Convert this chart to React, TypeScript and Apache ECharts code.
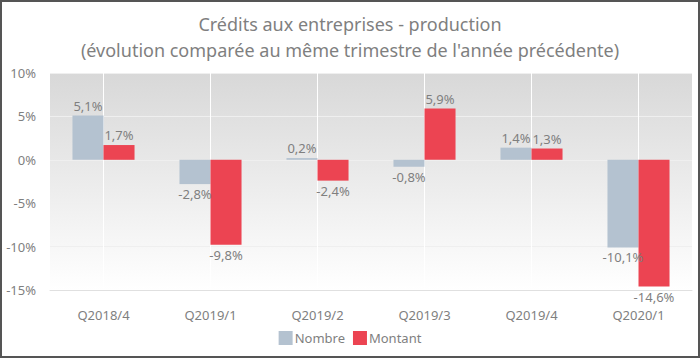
import React, { useEffect, useRef } from "react";
import * as echarts from "echarts";

const categories = ["Q2018/4", "Q2019/1", "Q2019/2", "Q2019/3", "Q2019/4", "Q2020/1"];
const nombre = [5.1, -2.8, 0.2, -0.8, 1.4, -10.1];
const montant = [1.7, -9.8, -2.4, 5.9, 1.3, -14.6];
const seriesNames = ["Nombre", "Montant"];
const titleLines = [
  "Crédits aux entreprises - production",
  "(évolution comparée au même trimestre de l'année précédente)",
];
const yMin = -15;
const yMax = 10;

const FONT = "'Noto Sans', 'Open Sans', sans-serif";
const GRAY = "#7f7f7f";

const fmt = (v: number) => v.toFixed(1).replace(".", ",") + "%";

const makeSeries = (name: string, data: number[], color: string) => ({
  name,
  type: "bar",
  z: 3,
  data: data.map((v) => ({
    value: v,
    label: { position: v >= 0 ? "top" : "bottom" },
  })),
  barGap: "0%",
  barCategoryGap: "42%",
  itemStyle: { color },
  label: {
    show: true,
    color: GRAY,
    fontSize: 13,
    lineHeight: 14,
    fontFamily: FONT,
    distance: 3,
    formatter: (p: any) => fmt(p.value),
  },
});

export default function App() {
  const ref = useRef<HTMLDivElement>(null);
  useEffect(() => {
    if (!ref.current) return;
    const chart = echarts.init(ref.current, null, { renderer: "svg" });
    chart.setOption({
      animation: false,
      backgroundColor: "#ffffff",
      title: {
        text: titleLines.join("\n"),
        left: "center",
        top: 6,
        textStyle: {
          color: GRAY,
          fontSize: 18,
          fontWeight: "normal",
          fontFamily: FONT,
          lineHeight: 26,
        },
      },
      legend: {
        bottom: 8,
        left: "center",
        icon: "rect",
        itemWidth: 14,
        itemHeight: 14,
        itemGap: 8,
        textStyle: { color: GRAY, fontSize: 13, fontFamily: FONT, padding: [0, 0, 0, -3] },
        data: seriesNames,
      },
      grid: {
        left: 50,
        right: 8,
        top: 73,
        bottom: 68,
        show: true,
        borderWidth: 0,
        backgroundColor: new echarts.graphic.LinearGradient(0, 0, 0, 1, [
          { offset: 0, color: "#d8d8d8" },
          { offset: 1, color: "#ffffff" },
        ]),
      },
      xAxis: {
        type: "category",
        data: categories,
        axisLine: { onZero: false, show: true, lineStyle: { color: "#e0e0e0", width: 1 } },
        axisTick: { show: false },
        axisLabel: { color: GRAY, fontSize: 13, lineHeight: 14, fontFamily: FONT, margin: 18 },
        splitLine: { show: false },
      },
      yAxis: {
        type: "value",
        min: yMin,
        max: yMax,
        interval: 5,
        axisLine: { show: false },
        axisTick: { show: false },
        axisLabel: {
          color: GRAY,
          fontSize: 13,
          fontFamily: FONT,
          margin: 14,
          formatter: (v: number) => v + "%",
        },
        splitLine: { lineStyle: { color: "#efefef", width: 1 } },
      },
      series: [
        {
          type: "custom",
          z: 2,
          silent: true,
          clip: false,
          encode: { x: 0, y: 1 },
          data: categories.map((c) => [c, yMax]),
          renderItem: (params: any, api: any) => {
            const idx = params.dataIndex;
            const p1 = api.coord([idx, yMax]);
            const p2 = api.coord([idx, yMin]);
            return {
              type: "line",
              shape: { x1: p1[0], y1: p1[1], x2: p2[0], y2: p2[1] },
              style: { stroke: "#ffffff", lineWidth: 1 },
            };
          },
        },
        makeSeries(seriesNames[0], nombre, "#b4c2d0"),
        makeSeries(seriesNames[1], montant, "#ec4452"),
      ],
      graphic: [
        {
          type: "rect",
          shape: { x: 1, y: 1, width: 698, height: 356 },
          style: { fill: "none", stroke: "#555555", lineWidth: 2 },
          silent: true,
        },
      ],
    });
    return () => chart.dispose();
  }, []);
  return (
    <div
      ref={ref}
      style={{ position: "fixed", left: 0, top: 0, width: 700, height: 358 }}
    />
  );
}
